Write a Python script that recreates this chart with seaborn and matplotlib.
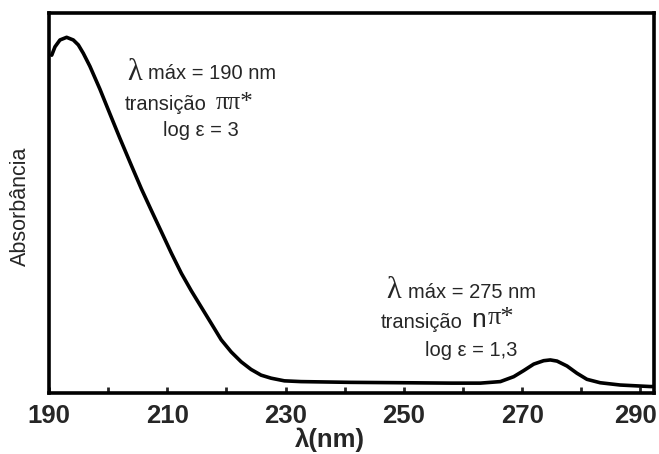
import numpy as np
import pandas as pd
import matplotlib
matplotlib.use("Agg")
import matplotlib.pyplot as plt
import matplotlib.transforms as mtransforms
import seaborn as sns

# Data (wavelength in nm, relative absorbance)
wavelength = [190.46, 191.01, 191.85, 192.98, 194.11, 194.96, 195.80, 196.91, 198.60,
              200.29, 201.97, 203.95, 205.63, 207.32, 209.01, 210.69, 212.38, 214.06,
              215.75, 217.44, 219.12, 220.81, 222.50, 224.17, 225.86, 227.55, 229.80,
              232.61, 241.04, 250.0, 258.0, 262.95, 266.32, 268.58, 270.27, 271.96,
              273.64, 274.77, 275.90, 277.59, 279.27, 280.96, 283.20, 286.58, 291.64,
              292.4]
absorbance = [0.889, 0.911, 0.929, 0.936, 0.929, 0.916, 0.894, 0.860, 0.800,
              0.735, 0.671, 0.598, 0.537, 0.480, 0.424, 0.368, 0.315, 0.269,
              0.226, 0.183, 0.140, 0.108, 0.082, 0.062, 0.047, 0.039, 0.032,
              0.030, 0.028, 0.027, 0.026, 0.026, 0.030, 0.043, 0.059, 0.076,
              0.085, 0.087, 0.084, 0.071, 0.052, 0.036, 0.027, 0.021, 0.017,
              0.017]
tick_values = [190, 200, 210, 220, 230, 240, 250, 260, 270, 280, 290]
tick_labels = ["190", "", "210", "", "230", "", "250", "", "270", "", "290"]

df = pd.DataFrame({"wavelength": wavelength, "absorbance": absorbance})

sns.set_style("white")
plt.rcParams["font.family"] = ["Liberation Sans", "DejaVu Sans"]

W, H = 659, 454
fig = plt.figure(figsize=(W / 100, H / 100), dpi=100)
ax = fig.add_axes([49 / W, 1 - 393 / H, (654 - 49) / W, (393 - 13) / H])

sns.lineplot(data=df, x="wavelength", y="absorbance", ax=ax, color="black",
             linewidth=2.6, sort=True, solid_joinstyle="round",
             solid_capstyle="round")

ax.set_xlim(190.2, 292.3)
ax.set_ylim(0, 1)
ax.set_yticks([])
ax.set_xticks(tick_values)
ax.set_xticklabels(tick_labels, fontsize=18.5, fontweight="bold")
ax.tick_params(axis="x", direction="in", length=4, width=2, pad=8, bottom=True)
ax.set_xlabel("")
ax.set_ylabel("")
for s in ax.spines.values():
    s.set_color("black")
    s.set_linewidth(2.6)

# nudge the last tick label inward, as in the reference
last = ax.get_xticklabels()[-1]
last.set_transform(last.get_transform() +
                   mtransforms.ScaledTranslation(-5 / 100, 0, fig.dpi_scale_trans))


def fx(px):
    return px / W


def fy(py):
    return 1 - py / H


serif = ["Liberation Serif", "DejaVu Serif"]
sans = ["Liberation Sans", "DejaVu Sans"]

# first annotation block
fig.text(fx(127), fy(72), "λ", family=serif, fontsize=22, va="center", ha="left")
fig.text(fx(148), fy(73.5), "máx = 190 nm", family=sans, fontsize=14.5, va="center", ha="left")
fig.text(fx(125), fy(104), "transição", family=sans, fontsize=14.5, va="center", ha="left")
fig.text(fx(216), fy(103), "ππ*", family=serif, fontsize=18, va="center", ha="left")
fig.text(fx(163), fy(130), "log ε = 3", family=sans, fontsize=14.5, va="center", ha="left")

# second annotation block
fig.text(fx(386), fy(291), "λ", family=serif, fontsize=22, va="center", ha="left")
fig.text(fx(408), fy(292.5), "máx = 275 nm", family=sans, fontsize=14.5, va="center", ha="left")
fig.text(fx(381), fy(322), "transição", family=sans, fontsize=14.5, va="center", ha="left")
fig.text(fx(471), fy(320), "n", family=sans, fontsize=19, va="center", ha="left")
fig.text(fx(488), fy(318), "π*", family=serif, fontsize=19, va="center", ha="left")
fig.text(fx(425), fy(351), "log ε = 1,3", family=sans, fontsize=14.5, va="center", ha="left")

# axis labels
fig.text(fx(20), fy(206), "Absorbância", family=sans, fontsize=15.5, rotation=90,
         va="center", ha="center")
fig.text(fx(330), fy(440), "λ(nm)", family=sans, fontsize=18.5, fontweight="bold",
         va="center", ha="center")

fig.savefig("out.png", dpi=100, facecolor="white")
